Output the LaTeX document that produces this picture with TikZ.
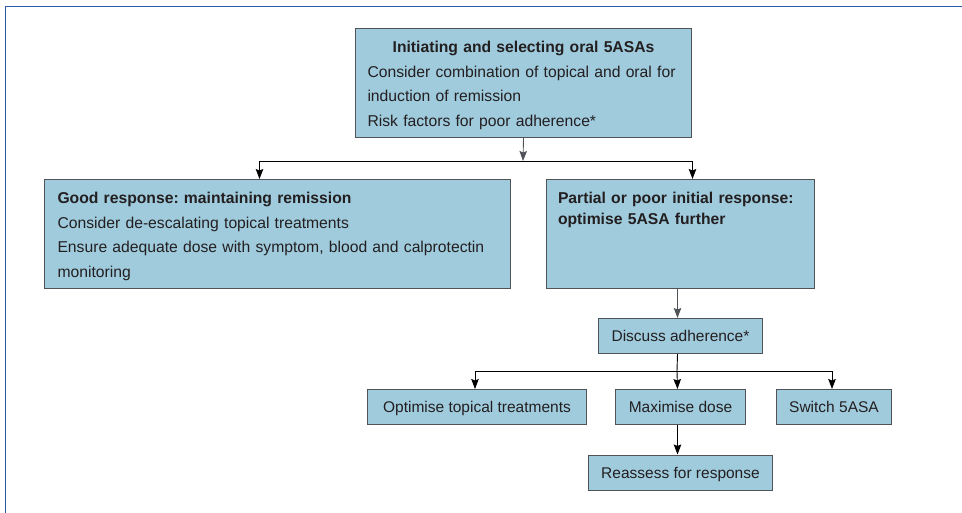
\documentclass[tikz,border=0pt]{standalone}
\usepackage{fontspec}
\setmainfont{Liberation Sans}
\usetikzlibrary{arrows.meta,positioning}

\definecolor{boxblue}{RGB}{159,203,221}
\definecolor{boxline}{RGB}{80,84,88}
\definecolor{frameblue}{RGB}{42,92,170}
\definecolor{inkgrey}{RGB}{35,31,32}

\frenchspacing

\begin{document}
\begin{tikzpicture}[x=1pt,y=-1pt]

\tikzset{panel/.style={draw=boxline, fill=boxblue, line width=1pt, anchor=north west,
                       inner ysep=0pt, align=left, text=inkgrey, text height=24.5pt,
                       text depth=84.5pt, font=\fontsize{15.7}{24.5}\selectfont},
         smallbox/.style={draw=boxline, fill=boxblue, line width=1pt, anchor=north west,
                          inner sep=0pt, minimum height=35pt, text=inkgrey,
                          text height=11.5pt, text depth=0pt,
                          font=\fontsize{15.5}{18}\selectfont},
         arrow/.style={-{Stealth[length=10pt,width=7.5pt,inset=1.5pt]}, line width=0.9pt}}

\useasboundingbox (0,0) rectangle (962,513);

% frame
\draw[frameblue, line width=1.6pt] (5.5,513) -- (5.5,6.5) -- (962,6.5);

% top level
\node[panel, text width=312pt, inner xsep=12pt] (init) at (355,28)
    {{\centering\bfseries Initiating and selecting oral 5ASAs\par}
     \mbox{Consider combination of topical and oral for}\\
     induction of remission\\
     Risk factors for poor adherence*};

% responses
\node[panel, text width=440pt, inner xsep=13pt] (good) at (44,179)
    {\textbf{Good response: maintaining remission}\\
     Consider de-escalating topical treatments\\
     Ensure adequate dose with symptom, blood and calprotectin\\
     monitoring};
\node[panel, text width=245pt, inner xsep=11.5pt,
      font=\fontsize{15.7}{20.5}\selectfont\bfseries] (poor) at (546,179)
    {Partial or poor initial response:\\
     optimise 5ASA further};

% optimising
\node[smallbox, minimum width=164pt] (discuss) at (598,318) {Discuss adherence*};
\node[smallbox, minimum width=219pt] (topical) at (367,389) {Optimise topical treatments};
\node[smallbox, minimum width=130pt] (maxdose) at (615,389) {Maximise dose};
\node[smallbox, minimum width=115pt] (switch) at (776,389) {Switch 5ASA};
\node[smallbox, minimum width=184pt] (reassess) at (588,454.5) {Reassess for response};

% connectors
\coordinate (split) at (523,161);
\coordinate (fork) at (677,371);

\draw[arrow, draw=boxline] (init.south) -- (split);
\draw[arrow] (split) -| ([xshift=-18pt]good.north);
\draw[arrow] (split) -| ([xshift=12pt]poor.north);
\draw[arrow, draw=boxline] ([xshift=-3pt]poor.south) -- ([xshift=-3pt]discuss.north);
\draw[line width=0.9pt] ([xshift=-3pt]discuss.south) -- (fork);
\draw[arrow] (fork) -| ([xshift=-2pt]topical.north);
\draw[arrow] (fork) -- ([xshift=-3pt]maxdose.north);
\draw[arrow] (fork) -| ([xshift=-2pt]switch.north);
\draw[arrow] ([xshift=-3pt]maxdose.south) -- ([xshift=-3pt]reassess.north);

\end{tikzpicture}
\end{document}
